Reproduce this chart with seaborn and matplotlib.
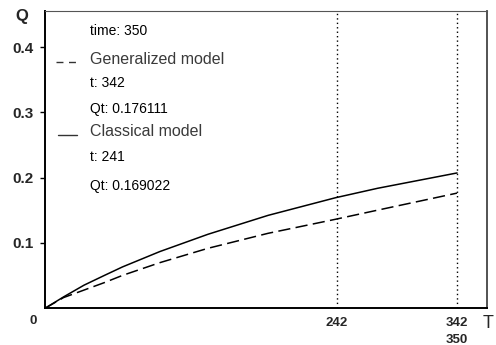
import matplotlib
matplotlib.use("Agg")
import matplotlib.pyplot as plt
import seaborn as sns
import pandas as pd

# Flow Q(t) for the two models
t_values = [0, 15, 32, 49, 64, 95, 135, 185, 241, 276, 342]
q_generalized = [0, 0.016, 0.0275, 0.039, 0.050, 0.0695, 0.0915, 0.1145, 0.136, 0.150, 0.176111]
q_classical = [0, 0.017, 0.035, 0.050, 0.063, 0.0865, 0.113, 0.142, 0.169022, 0.1835, 0.207]

marker_times = [242, 342]
x_tick_labels = ["242", "342\n350"]
y_ticks = [0.1, 0.2, 0.3, 0.4]
y_tick_labels = ["0.1", "0.2", "0.3", "0.4"]

info_lines = [
    ("time: 350", None),
    ("Generalized model", "dash"),
    ("t: 342", None),
    ("Qt: 0.176111", None),
    ("Classical model", "solid"),
    ("t: 241", None),
    ("Qt: 0.169022", None),
]

df = pd.DataFrame({
    "t": t_values * 2,
    "Q": q_generalized + q_classical,
    "model": ["Generalized model"] * len(t_values) + ["Classical model"] * len(t_values),
})

sns.set_theme(style="white")
plt.rcParams["font.family"] = ["Liberation Sans", "DejaVu Sans"]

fig = plt.figure(figsize=(4.96, 3.45), dpi=100)
ax = fig.add_axes([0.0917, 0.1072, 0.8895, 0.8617])

sns.lineplot(
    data=df, x="t", y="Q", style="model",
    dashes={"Generalized model": (8, 3.5), "Classical model": ""},
    color="black", linewidth=1.1, legend=False, ax=ax,
)

for mt in marker_times:
    ax.axvline(mt, color="black", linestyle=(0, (1, 2.2)), linewidth=1.0)

ax.set_xlim(0, 366.6)
ax.set_ylim(0, 0.4556)

ax.set_xticks(marker_times)
ax.set_xticklabels(x_tick_labels, fontsize=9.5, fontweight="bold", linespacing=1.5, va="top")
ax.set_yticks(y_ticks)
ax.set_yticklabels(y_tick_labels, fontsize=11, fontweight="bold")
ax.tick_params(axis="x", length=0, pad=6.5)
ax.tick_params(axis="y", length=3.5, width=1, color="black", pad=5, left=True, direction="out")
ax.set_xlabel("")
ax.set_ylabel("")

for side in ["left", "bottom"]:
    ax.spines[side].set_color("black")
    ax.spines[side].set_linewidth(1.4)
ax.spines["top"].set_color("#555555")
ax.spines["top"].set_linewidth(0.8)
ax.spines["right"].set_color("#444444")
ax.spines["right"].set_linewidth(1.3)

fig.text(33 / 496, 1 - 321 / 345, "0", fontsize=9.5, fontweight="bold", ha="center", va="center")
fig.text(22 / 496, 1 - 17 / 345, "Q", fontsize=12, fontweight="bold", ha="center", va="center")
fig.text(488 / 496, 1 - 323 / 345, "T", fontsize=13, ha="center", va="center")

# info panel text
y_pos = [31, 60, 83, 109, 132, 157, 186]
for (txt, sym), yp in zip(info_lines, y_pos):
    big = sym is not None
    fig.text(90.5 / 496, 1 - yp / 345, txt,
             fontsize=11.5 if big else 10,
             color="#3a3a3a" if big else "black",
             ha="left", va="center")
    if sym == "dash":
        fig.lines.append(plt.Line2D([56 / 496, 77 / 496], [1 - 62 / 345] * 2,
                                    transform=fig.transFigure, color="#333333",
                                    linewidth=1.0, linestyle=(0, (5, 4))))
    elif sym == "solid":
        fig.lines.append(plt.Line2D([58 / 496, 77 / 496], [1 - 135 / 345] * 2,
                                    transform=fig.transFigure, color="#333333",
                                    linewidth=1.0))

fig.savefig("out.png", dpi=100)
